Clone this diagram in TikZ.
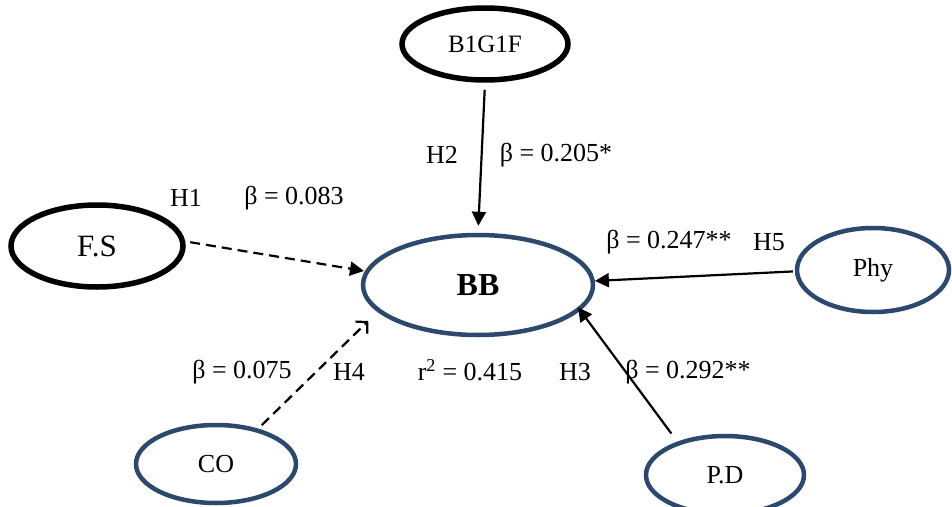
\documentclass[tikz,border=0pt]{standalone}
\usepackage{fontspec}
\setmainfont{Liberation Serif}
\usetikzlibrary{shapes.geometric,arrows.meta,calc}
\definecolor{navy}{RGB}{44,72,108}
\tikzset{
  x=1pt, y=-1pt,
  blackell/.style={ellipse, draw=black, line width=5.5pt, inner sep=0pt},
  blueell/.style={ellipse, draw=navy, line width=4.5pt, inner sep=0pt},
  lbl/.style={font=\fontsize{26}{30}\selectfont, inner sep=0pt},
  solidarrow/.style={line width=2.2pt, -{Triangle[length=14pt,width=14pt]}},
  dasharrow/.style={line width=2.2pt, dash pattern=on 10pt off 6pt, -{Triangle[length=14pt,width=14pt]}},
  openarrow/.style={line width=2.2pt, dash pattern=on 10pt off 6pt, -{Straight Barb[length=8pt,width=17pt,line width=2.2pt]}}
}
\begin{document}
\begin{tikzpicture}
\useasboundingbox (0,0) rectangle (952,506);
% nodes
\node[blackell, minimum width=166pt, minimum height=72pt, font=\fontsize{25}{28}\selectfont] (bg) at (485,44) {\raisebox{-6pt}{B1G1F}};
\node[blackell, minimum width=172pt, minimum height=82pt, font=\fontsize{31}{34}\selectfont] (fs) at (97,246) {\raisebox{-5pt}{F.S}};
\node[blueell, minimum width=230pt, minimum height=100pt, font=\bfseries\fontsize{32}{36}\selectfont] (bb) at (478,285) {\raisebox{-3pt}{BB}};
\node[blueell, minimum width=152pt, minimum height=84pt, font=\fontsize{26}{30}\selectfont] (phy) at (873,270) {\raisebox{-2pt}{Phy}};
\node[blueell, minimum width=160pt, minimum height=78pt, font=\fontsize{26}{30}\selectfont] (co) at (216,464) {\raisebox{-5pt}{CO}};
\node[blueell, minimum width=158pt, minimum height=78pt, font=\fontsize{26}{30}\selectfont] (pd) at (725,475) {\raisebox{-5pt}{P.D}};
% connectors
\draw[solidarrow, shorten <=7pt, shorten >=7pt] (bg.south) -- (bb.north);
\draw[dasharrow, shorten <=5pt, shorten >=1pt] (fs.3) -- (bb.173);
\draw[solidarrow, shorten <=2pt] (phy.181) -- (bb.2);
\draw[openarrow, shorten <=5pt, shorten >=13pt] (co.40) -- (bb.195);
\draw[solidarrow, shorten <=10pt, shorten >=-4pt] (pd.145) -- (bb.-14);
% labels
\node[lbl] (h1) at (186,198) {H1};
\node[lbl] (b1) at (294,198) {β = 0.083};
\node[lbl] (h2) at (442,155) {H2};
\node[lbl] (b2) at (556,155) {β = 0.205*};
\node[lbl] (b5) at (669,242) {β = 0.247**};
\node[lbl] (h5) at (769,242) {H5};
\node[lbl] (b4) at (242,372) {β = 0.075};
\node[lbl] (h4) at (349,372) {H4};
\node[lbl] (r2) at (470,370) {r\textsuperscript{2} = 0.415};
\node[lbl] (h3) at (575,372) {H3};
\node[lbl] (b3) at (688,372) {β = 0.292**};
\end{tikzpicture}
\end{document}
